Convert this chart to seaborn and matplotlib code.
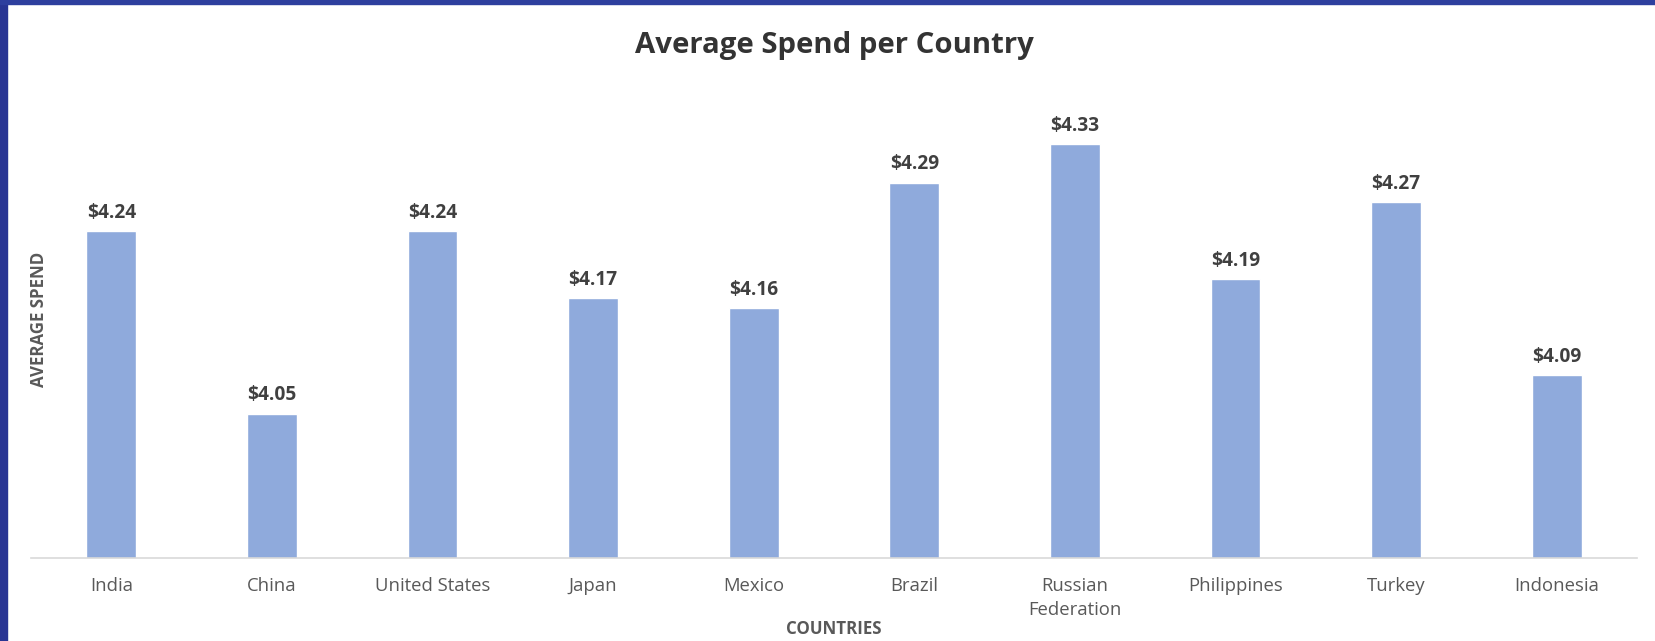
import matplotlib
matplotlib.use("Agg")
import matplotlib.pyplot as plt
import seaborn as sns
import pandas as pd
from matplotlib.patches import Rectangle

countries = ["India", "China", "United States", "Japan", "Mexico", "Brazil",
             "Russian\nFederation", "Philippines", "Turkey", "Indonesia"]
avg_spend = [4.24, 4.05, 4.24, 4.17, 4.16, 4.29, 4.33, 4.19, 4.27, 4.09]
value_labels = ["$4.24", "$4.05", "$4.24", "$4.17", "$4.16", "$4.29",
                "$4.33", "$4.19", "$4.27", "$4.09"]

sns.set_theme(style="white")
plt.rcParams['font.family'] = ['Open Sans', 'DejaVu Sans']

df = pd.DataFrame({"country": countries, "spend": avg_spend})

W, H = 1656, 641
fig = plt.figure(figsize=(W / 100, H / 100), dpi=100)
ax = fig.add_axes([31 / W, (H - 558) / H, 1606 / W, 481 / H])

sns.barplot(data=df, x="country", y="spend", color="#8FAADC", saturation=1,
            width=0.31, ax=ax)
ax.set_ylim(3.9, 4.4)
ax.set_xlim(-0.5, 9.5)

for i, (v, lab) in enumerate(zip(avg_spend, value_labels)):
    ax.annotate(lab, (i, v), xytext=(0, 6), textcoords="offset points",
                ha="center", va="bottom", fontsize=13.8, fontweight="bold",
                color="#404040")

for s in ["top", "right", "left"]:
    ax.spines[s].set_visible(False)
ax.spines["bottom"].set_color("#D9D9D9")
ax.spines["bottom"].set_linewidth(1.2)
ax.set_yticks([])
ax.tick_params(axis="x", length=0, pad=14, labelsize=13.3, labelcolor="#595959")
for t in ax.get_xticklabels():
    t.set_linespacing(1.42)
ax.set_xlabel("")
ax.set_ylabel("")

fig.text(0.5 * (31 + 1637) / W, 1 - 629 / H, "COUNTRIES", ha="center", va="center",
         fontsize=12.2, fontweight="bold", color="#595959")
fig.text(39 / W, 1 - 319 / H, "AVERAGE SPEND", ha="center", va="center",
         rotation=90, fontsize=12.2, fontweight="bold", color="#595959")
fig.text(0.5 * (31 + 1637) / W, 1 - 45 / H, "Average Spend per Country",
         ha="center", va="center", fontsize=21.2, fontweight="bold", color="#333333")

# frame decoration
fig.patches.append(Rectangle((0, 0), 7 / W, 1, transform=fig.transFigure,
                             color="#283593", zorder=10))
fig.patches.append(Rectangle((0, 1 - 3.5 / H), 1, 3.5 / H, transform=fig.transFigure,
                             color="#2E3F9E", zorder=10))

fig.savefig("out.png", dpi=100, facecolor="white")
